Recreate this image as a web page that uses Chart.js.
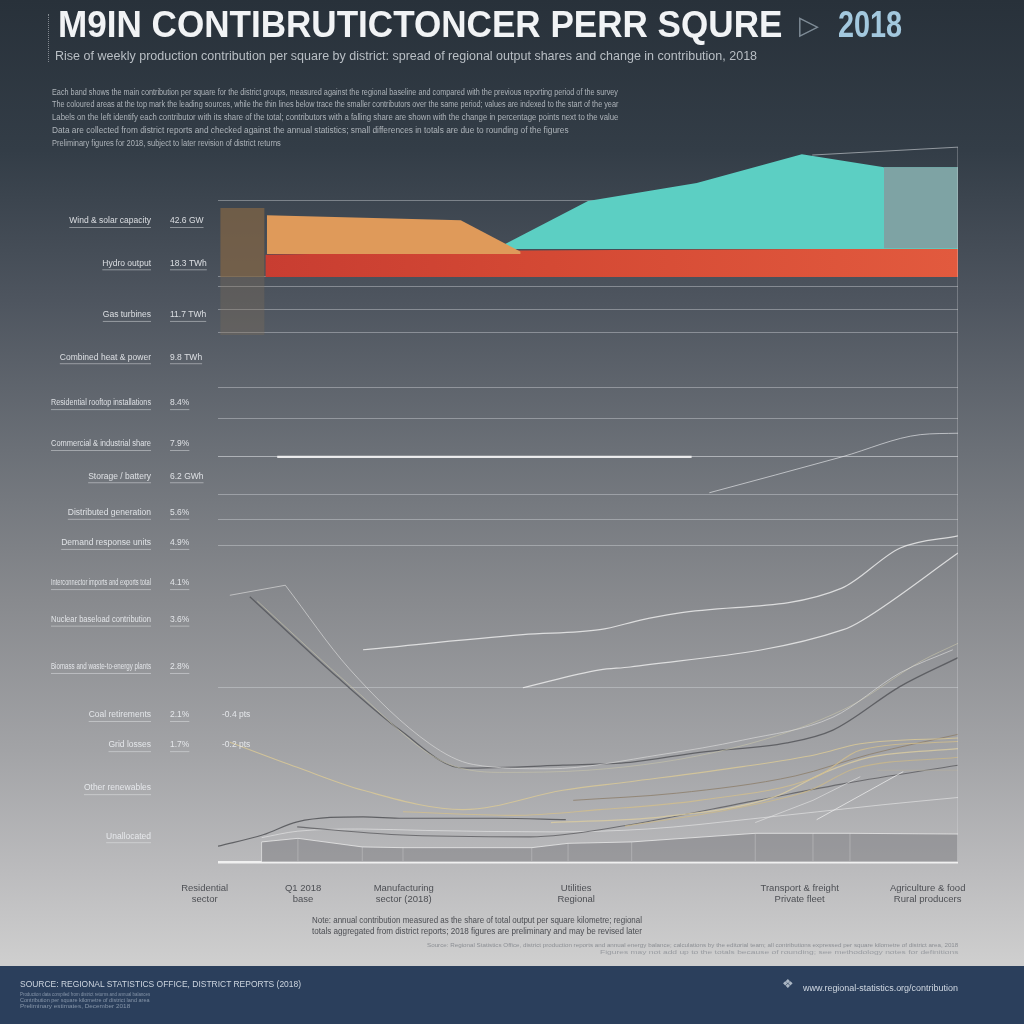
<!DOCTYPE html>
<html><head><meta charset="utf-8">
<script src="https://cdn.jsdelivr.net/npm/chart.js@4.4.1/dist/chart.umd.min.js"></script>
<style>
html,body{margin:0;padding:0;width:1024px;height:1024px;overflow:hidden}
body{position:relative;background:linear-gradient(to bottom,#28313a 0px,#333d47 150px,#4e555f 300px,#6b7077 450px,#888a8e 600px,#a2a3a6 750px,#bbbbbd 870px,#cecece 960px);font-family:"Liberation Sans",Arial,sans-serif}
#footer{position:absolute;left:0;top:966px;width:1024px;height:58px;background:#2b3f5c}
#c{position:absolute;left:0;top:0}
.t{position:absolute;white-space:nowrap;line-height:1;transform-origin:0 0;z-index:2}
#vl{position:absolute;left:48px;top:14px;height:48px;border-left:1px dotted rgba(190,195,200,0.6)}
</style></head>
<body>
<div id="footer"></div>
<div id="vl"></div>
<div class="t" data-w="724" style="left:58px;top:7px;font-size:36px;font-weight:bold;color:#f1f3f5">M9IN CONTIBRUTICTONCER PERR SQURE</div>
<div class="t" style="left:799px;top:12px;font-size:26px;color:#7f8c97">▷</div>
<div class="t" data-w="64" style="left:838px;top:7px;font-size:36px;font-weight:bold;color:#a3c8de">2018</div>
<div class="t" data-w="702" style="left:55px;top:50px;font-size:12px;color:#b9bfc5">Rise of weekly production contribution per square by district: spread of regional output shares and change in contribution, 2018</div>
<div class="t" data-w="566" style="left:52px;top:88px;font-size:8.5px;color:#aeb4ba">Each band shows the main contribution per square for the district groups, measured against the regional baseline and compared with the previous reporting period of the survey</div>
<div class="t" data-w="566" style="left:52px;top:100px;font-size:8.5px;color:#aeb4ba">The coloured areas at the top mark the leading sources, while the thin lines below trace the smaller contributors over the same period; values are indexed to the start of the year</div>
<div class="t" data-w="566" style="left:52px;top:113px;font-size:8.5px;color:#aeb4ba">Labels on the left identify each contributor with its share of the total; contributors with a falling share are shown with the change in percentage points next to the value</div>
<div class="t" data-w="517" style="left:52px;top:126px;font-size:8.5px;color:#aeb4ba">Data are collected from district reports and checked against the annual statistics; small differences in totals are due to rounding of the figures</div>
<div class="t" data-w="229" style="left:52px;top:139px;font-size:8.5px;color:#aeb4ba">Preliminary figures for 2018, subject to later revision of district returns</div>
<div class="t" data-w="330" style="left:312px;top:915px;font-size:9.5px;color:#4b4d52">Note: annual contribution measured as the share of total output per square kilometre; regional</div>
<div class="t" data-w="330" style="left:312px;top:926px;font-size:9.5px;color:#4b4d52">totals aggregated from district reports; 2018 figures are preliminary and may be revised later</div>
<div class="t" data-w="531" style="left:427px;top:943px;font-size:5.5px;color:#8c8f94">Source: Regional Statistics Office, district production reports and annual energy balance; calculations by the editorial team; all contributions expressed per square kilometre of district area, 2018</div>
<div class="t" data-w="358" style="left:600px;top:950px;font-size:5.5px;color:#989ba0">Figures may not add up to the totals because of rounding; see methodology notes for definitions</div>
<div class="t" data-w="281" style="left:20px;top:980px;font-size:9px;color:#cdd5df">SOURCE: REGIONAL STATISTICS OFFICE, DISTRICT REPORTS (2018)</div>
<div class="t" data-w="130" style="left:20px;top:992px;font-size:5px;color:#8796aa">Production data compiled from district returns and annual balances</div>
<div class="t" data-w="130" style="left:20px;top:998px;font-size:5px;color:#8796aa">Contribution per square kilometre of district land area</div>
<div class="t" data-w="110" style="left:20px;top:1004px;font-size:5px;color:#8796aa">Preliminary estimates, December 2018</div>
<div class="t" style="left:782px;top:977px;font-size:13px;color:#aab6c4">❖</div>
<div class="t" data-w="155" style="left:803px;top:984px;font-size:8.5px;color:#d0d8e2">www.regional-statistics.org/contribution</div>
<canvas id="c" width="1024" height="1024"></canvas>
<script>
// ---- tick labels / categories ----
const yLabelPos = [89.4, 83.5, 76.3, 70.4, 64.0, 58.3, 53.8, 48.7, 44.5, 38.9, 33.8, 27.2, 20.5, 16.3, 10.3, 3.6];
const yLabelNames = ["Wind & solar capacity", "Hydro output", "Gas turbines", "Combined heat & power",
  "Residential rooftop installations", "Commercial & industrial share", "Storage / battery",
  "Distributed generation", "Demand response units", "Interconnector imports and exports total",
  "Nuclear baseload contribution", "Biomass and waste-to-energy plants", "Coal retirements",
  "Grid losses", "Other renewables", "Unallocated"];
const yLabelValues = ["42.6 GW", "18.3 TWh", "11.7 TWh", "9.8 TWh", "8.4%", "7.9%", "6.2 GWh",
  "5.6%", "4.9%", "4.1%", "3.6%", "2.8%", "2.1%", "1.7%", "", ""];
const yLabelDeltas = ["", "", "", "", "", "", "", "", "", "", "", "", "-0.4 pts", "-0.2 pts", "", ""];
const gridLevels = [0, 24.3, 44.1, 47.8, 51.2, 56.5, 61.9, 66.2, 73.8, 77.1, 80.2, 81.6, 92.3];
const xLabelPos = [-1.8, 11.5, 25.1, 48.4, 78.6, 95.9];
const xLabelLine1 = ["Residential", "Q1 2018", "Manufacturing", "Utilities", "Transport & freight", "Agriculture & food"];
const xLabelLine2 = ["sector", "base", "sector (2018)", "Regional", "Private fleet", "Rural producers"];

// ---- series ----
const brownX = [0.3, 6.3], brownTop = [91.2, 91.2], brownBase = 81.6;
const brownLowX = [0.3, 6.3], brownLowTop = [81.6, 81.6], brownLowBase = 73.5;
const redX = [6.4, 40.9, 100], redTop = [84.7, 85.3, 85.6], redBase = 81.6;
const orangeX = [6.6, 32.8, 40.9], orangeTop = [90.2, 89.5, 85.1], orangeBase = 84.8;
const tealX = [37.5, 50.0, 64.7, 78.9, 90.0, 100], tealTop = [85.5, 92.2, 94.7, 98.7, 96.9, 96.9], tealBase = 85.5;
const slateX = [90.0, 100], slateTop = [96.9, 96.9], slateBase = 85.6;
const frameTopX = [80.3, 100], frameTopY = [98.6, 99.7];
const frameRightX = [100, 100], frameRightY = [0, 99.7];
const brightX = [8, 64], brightY = [56.5, 56.5];

const lineBX = [66.4, 84.3, 94.9, 100], lineBY = [51.5, 56.5, 59.6, 59.8];
const lineA1X = [19.6, 41.2, 51.6, 57.4, 62.2, 84.3, 92.2, 100], lineA1Y = [29.6, 31.7, 32.4, 33.8, 34.7, 38.2, 43.8, 45.5];
const lineA2X = [41.2, 51.6, 55.7, 84.5, 87.2, 100], lineA2Y = [24.3, 26.8, 27.2, 32.4, 33.8, 43.1];
const vDarkX = [4.3, 16.1, 24.6, 33.1, 46.6, 55.7, 65.1, 76.9, 83.1, 92.2, 100], vDarkY = [37.0, 25.8, 18.4, 13.1, 13.5, 13.9, 15.3, 16.6, 18.4, 24.5, 28.5];
const capX = [1.6, 9.1], capY = [37.2, 38.6];
const vLight1X = [9.1, 17.7, 28.6, 34.5, 44.6, 60, 70.9, 83.1, 92.2, 99.3], vLight1Y = [38.6, 27.0, 16.5, 13.6, 13.0, 15.0, 17.0, 20.2, 26.4, 29.6];
const vLight2X = [5.3, 18.5, 30.0, 38.0, 50, 70, 85, 95, 100], vLight2Y = [36.4, 24.0, 14.2, 12.5, 12.8, 16.0, 21.5, 28.0, 30.5];
const tan1X = [1.6, 10.7, 19.6, 33.1, 46.6, 55.7, 70.9, 80.9, 86.8, 100], tan1Y = [16.7, 13.2, 10.0, 7.3, 10.0, 11.2, 13.3, 15.0, 16.5, 17.3];
const tan2X = [25, 40, 51.6, 65, 80.9, 86.8, 100], tan2Y = [7.0, 6.5, 7.3, 8.6, 11.9, 15.6, 16.8];
const tan3X = [45, 60, 75, 82, 88, 100], tan3Y = [5.5, 6.3, 9.0, 12.5, 14.6, 15.8];
const tan4X = [55, 70, 80, 86, 100], tan4Y = [5.0, 7.5, 10.0, 13.0, 14.6];
const brownLineX = [48, 62, 78, 88, 100], brownLineY = [8.6, 9.6, 12.0, 15.0, 17.8];
const flat770X = [89.1, 100], flat770Y = [12.8, 12.8];
const diag1X = [80.9, 92.6], diag1Y = [5.9, 12.6];
const diag2X = [72.6, 80.4, 86.8], diag2Y = [5.5, 8.6, 11.9];
const dark1X = [0, 6.1, 10.7, 19.6, 25.0, 37.7, 47], dark1Y = [2.2, 3.8, 5.6, 6.3, 6.1, 6.1, 5.9];
const dark2X = [10.7, 24.2, 42.2, 46.6, 55.7, 72.8, 85, 100], dark2Y = [4.9, 3.8, 3.5, 3.8, 5.2, 8.6, 11.0, 13.5];
const white2X = [5.9, 10.8, 19.5, 28, 45, 58, 72, 90, 100], white2Y = [3.4, 4.3, 4.6, 4.4, 4.2, 4.6, 6.0, 8.0, 9.0];
const baseAreaX = [5.9, 10.8, 19.5, 25.0, 42.4, 47.3, 55.9, 72.6, 80.4, 85.4, 100];
const baseAreaTop = [2.8, 3.3, 2.1, 2.0, 2.0, 2.6, 2.8, 4.0, 4.0, 4.0, 3.9];

// ---- helpers ----
const pts = (xs, ys) => xs.map((x, i) => ({x, y: ys[i]}));
const sepPts = [];
baseAreaX.forEach((x, i) => { sepPts.push({x, y: 0}, {x, y: baseAreaTop[i]}, {x, y: null}); });

function area(xs, ys, base, color, order, border) {
  return {data: pts(xs, ys), fill: {value: base}, backgroundColor: color, borderColor: border || 'transparent',
    borderWidth: border ? 1 : 0, pointRadius: 0, tension: 0, order};
}
function line(xs, ys, color, w, order, smooth) {
  return {data: pts(xs, ys), fill: false, borderColor: color, borderWidth: w, pointRadius: 0,
    cubicInterpolationMode: smooth === false ? 'default' : 'monotone', tension: smooth === false ? 0 : 0.4, order};
}
const redGrad = (c) => {
  const {ctx, chartArea} = c.chart;
  if (!chartArea) return '#d24a34';
  const g = ctx.createLinearGradient(chartArea.left, 0, chartArea.right, 0);
  g.addColorStop(0, '#c63b31'); g.addColorStop(0.45, '#d44934'); g.addColorStop(1, '#e25a3e');
  return g;
};

const datasets = [
  area(brownX, brownTop, brownBase, 'rgba(128,100,70,0.75)', 5),
  area(brownLowX, brownLowTop, brownLowBase, 'rgba(125,108,90,0.35)', 5),
  area(redX, redTop, redBase, redGrad, 4),
  area(orangeX, orangeTop, orangeBase, '#df9a5a', 3),
  area(tealX, tealTop, tealBase, '#5ccfc3', 3),
  area(slateX, slateTop, slateBase, '#7ea3a4', 2),
  area(baseAreaX, baseAreaTop, 0, 'rgba(110,110,115,0.42)', 6, 'rgba(236,236,236,0.75)'),
  {data: sepPts, fill: false, borderColor: 'rgba(238,238,238,0.7)', borderWidth: 1, pointRadius: 0, spanGaps: false, order: 6},
  line(frameTopX, frameTopY, 'rgba(210,214,218,0.6)', 1, 1, false),
  line(frameRightX, frameRightY, 'rgba(225,228,230,0.55)', 1, 1, false),
  line(brightX, brightY, 'rgba(245,245,245,0.9)', 2.2, 1, false),
  line(lineBX, lineBY, 'rgba(232,234,236,0.65)', 1, 1),
  line(lineA1X, lineA1Y, 'rgba(240,240,240,0.8)', 1.2, 1),
  line(lineA2X, lineA2Y, 'rgba(240,240,240,0.8)', 1.2, 1),
  line(capX, capY, 'rgba(215,215,215,0.7)', 1, 1, false),
  line(vLight1X, vLight1Y, 'rgba(215,215,215,0.7)', 1, 1),
  line(vLight2X, vLight2Y, 'rgba(200,196,170,0.6)', 1, 1),
  line(vDarkX, vDarkY, 'rgba(85,86,90,0.85)', 1.3, 1),
  line(tan1X, tan1Y, 'rgba(216,200,150,0.85)', 1.1, 1),
  line(tan2X, tan2Y, 'rgba(210,190,140,0.8)', 1.1, 1),
  line(tan3X, tan3Y, 'rgba(220,205,160,0.8)', 1.3, 1),
  line(tan4X, tan4Y, 'rgba(205,185,135,0.75)', 1.1, 1),
  line(brownLineX, brownLineY, 'rgba(140,125,105,0.8)', 1, 1),
  line(flat770X, flat770Y, 'rgba(180,175,160,0.7)', 1, 1, false),
  line(diag1X, diag1Y, 'rgba(238,238,238,0.75)', 1, 1, false),
  line(diag2X, diag2Y, 'rgba(230,230,230,0.6)', 1, 1, false),
  line(dark1X, dark1Y, 'rgba(75,76,80,0.8)', 1.2, 1),
  line(dark2X, dark2Y, 'rgba(85,86,90,0.75)', 1.1, 1),
  line(white2X, white2Y, 'rgba(238,238,238,0.55)', 1, 1)
];

const sideLabels = {
  id: 'sideLabels',
  afterDraw(chart) {
    const {ctx, scales: {x, y}} = chart;
    ctx.save();
    ctx.textBaseline = 'middle';
    ctx.font = '8.5px "Liberation Sans Narrow", "Liberation Sans", Arial, sans-serif';
    const maxW = 100;
    yLabelPos.forEach((v, i) => {
      const py = y.getPixelForValue(v);
      ctx.fillStyle = 'rgba(238,240,244,0.88)';
      ctx.strokeStyle = 'rgba(232,234,238,0.45)';
      ctx.lineWidth = 1;
      const nat = ctx.measureText(yLabelNames[i]).width;
      const w = Math.min(nat, maxW);
      ctx.save();
      ctx.translate(151 - w, py);
      ctx.scale(w / nat, 1);
      ctx.textAlign = 'left';
      ctx.fillText(yLabelNames[i], 0, 0);
      ctx.restore();
      ctx.beginPath(); ctx.moveTo(151 - w, py + 6.5); ctx.lineTo(151, py + 6.5); ctx.stroke();
      ctx.textAlign = 'left';
      if (yLabelValues[i]) {
        ctx.fillText(yLabelValues[i], 170, py);
        const w2 = ctx.measureText(yLabelValues[i]).width;
        ctx.beginPath(); ctx.moveTo(170, py + 6.5); ctx.lineTo(170 + w2, py + 6.5); ctx.stroke();
      }
      if (yLabelDeltas[i]) ctx.fillText(yLabelDeltas[i], 222, py);
    });
    ctx.fillStyle = '#4d4f54';
    ctx.textAlign = 'center';
    ctx.font = '9.5px "Liberation Sans", Arial, sans-serif';
    xLabelPos.forEach((v, i) => {
      const px = x.getPixelForValue(v);
      ctx.fillText(xLabelLine1[i], px, 888);
      ctx.fillText(xLabelLine2[i], px, 899);
    });
    ctx.restore();
  }
};

new Chart(document.getElementById('c'), {
  type: 'line',
  data: {datasets},
  options: {
    responsive: false, animation: false, devicePixelRatio: 1,
    layout: {padding: {left: 218, right: 66, top: 145, bottom: 162}},
    plugins: {legend: {display: false}, tooltip: {enabled: false}},
    scales: {
      x: {type: 'linear', min: 0, max: 100, display: false},
      y: {type: 'linear', min: 0, max: 100, display: true,
        afterBuildTicks: (s) => { s.ticks = gridLevels.map(v => ({value: v})); },
        ticks: {display: false, padding: 0},
        border: {display: false},
        grid: {drawTicks: false,
          color: (c) => c.tick && c.tick.value === 0 ? 'rgba(242,242,242,0.95)' : (c.tick && c.tick.value === 56.5 ? 'rgba(230,232,235,0.55)' : 'rgba(215,218,222,0.42)'),
          lineWidth: (c) => c.tick && c.tick.value === 0 ? 2.5 : 1}
      }
    }
  },
  plugins: [sideLabels]
});

document.querySelectorAll('.t[data-w]').forEach(el => {
  const w = parseFloat(el.dataset.w);
  const n = el.scrollWidth;
  if (n > 0) el.style.transform = 'scaleX(' + (w / n) + ')';
});
</script>
</body></html>
